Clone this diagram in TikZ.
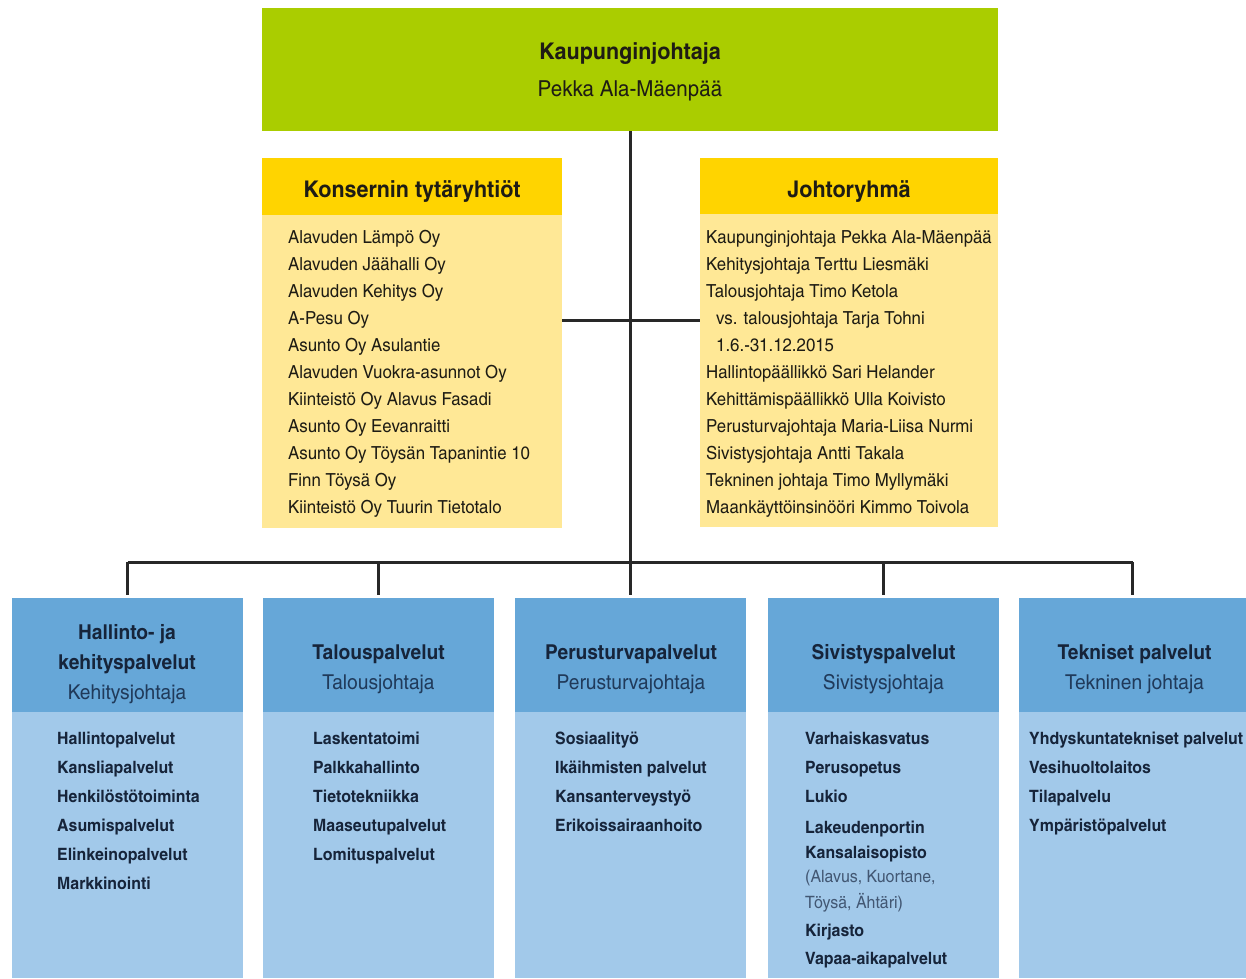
\documentclass[tikz,border=0pt]{standalone}
\usepackage{fontspec}
\setmainfont{texgyreheroscn}[Extension=.otf, UprightFont=*-regular, BoldFont=*-bold, ItalicFont=*-italic, BoldItalicFont=*-bolditalic, FakeStretch=1.14]
\definecolor{lime}{RGB}{170,205,0}
\definecolor{yhead}{RGB}{255,212,0}
\definecolor{ybody}{RGB}{255,232,150}
\definecolor{bhead}{RGB}{102,167,216}
\definecolor{bbody}{RGB}{162,201,234}
\definecolor{navy}{RGB}{22,36,58}
\definecolor{navy2}{RGB}{32,58,90}
\definecolor{ink}{RGB}{30,28,20}
\definecolor{linec}{RGB}{40,40,40}
\begin{document}
\begin{tikzpicture}[x=1pt,y=-1pt,
  box/.style={draw=none, inner sep=0pt, outer sep=0pt, anchor=north west},
  conn/.style={draw=linec, line width=3pt},
  ttl/.style={inner sep=0pt, anchor=base, text=ink, font=\fontsize{23}{26}\selectfont\bfseries},
  sub/.style={inner sep=0pt, anchor=base, text=ink, font=\fontsize{22}{24}\selectfont},
  yhd/.style={inner sep=0pt, anchor=base, text=ink, font=\fontsize{23}{26}\selectfont\bfseries},
  yit/.style={inner sep=0pt, anchor=base west, text=ink, font=\fontsize{18}{22}\selectfont},
  bhd/.style={inner sep=0pt, anchor=base, text=navy, font=\fontsize{20.5}{24}\selectfont\bfseries},
  bsub/.style={inner sep=0pt, anchor=base, text=navy2, font=\fontsize{20.5}{24}\selectfont},
  bit/.style={inner sep=0pt, anchor=base west, text=navy, font=\fontsize{17}{20}\selectfont\bfseries},
  bnote/.style={inner sep=0pt, anchor=base west, text=navy2!85, font=\fontsize{17}{20}\selectfont},
]
\useasboundingbox (0,0) rectangle (1246,978);
\fill[white] (0,0) rectangle (1246,978);

% top box
\node[box, fill=lime, minimum width=736pt, minimum height=123pt] (top) at (262,8) {};
\node[ttl] (toptitle) at (630,59) {Kaupunginjohtaja};
\node[sub] (topname) at (630,96) {Pekka Ala-Mäenpää};

% yellow boxes
\node[box, fill=ybody, minimum width=300pt, minimum height=370pt] (kons) at (262,158) {};
\node[box, fill=yhead, minimum width=300pt, minimum height=57pt] (konsh) at (262,158) {};
\node[yhd] (konst) at (412,197) {Konsernin tytäryhtiöt};
\foreach \t [count=\i] in {Alavuden Lämpö Oy, Alavuden Jäähalli Oy, Alavuden Kehitys Oy, A-Pesu Oy, Asunto Oy Asulantie, Alavuden Vuokra-asunnot Oy, Kiinteistö Oy Alavus Fasadi, Asunto Oy Eevanraitti, Asunto Oy Töysän Tapanintie 10, Finn Töysä Oy, Kiinteistö Oy Tuurin Tietotalo}
  \node[yit] (k\i) at (288,{243+(\i-1)*27}) {\t};

\node[box, fill=ybody, minimum width=298pt, minimum height=369pt] (johto) at (700,158) {};
\node[box, fill=yhead, minimum width=298pt, minimum height=56pt] (johtoh) at (700,158) {};
\node[yhd] (johtot) at (849,197) {Johtoryhmä};
\foreach \t/\dx [count=\i] in {Kaupunginjohtaja Pekka Ala-Mäenpää/0, Kehitysjohtaja Terttu Liesmäki/0, Talousjohtaja Timo Ketola/0, vs. talousjohtaja Tarja Tohni/10, 1.6.-31.12.2015/10, Hallintopäällikkö Sari Helander/0, Kehittämispäällikkö Ulla Koivisto/0, Perusturvajohtaja Maria-Liisa Nurmi/0, Sivistysjohtaja Antti Takala/0, Tekninen johtaja Timo Myllymäki/0, Maankäyttöinsinööri Kimmo Toivola/0}
  \node[yit] (j\i) at ({706+\dx},{243+(\i-1)*27}) {\t};

% blue boxes
\foreach \n/\x/\w in {b1/12/231, b2/263/231, b3/515/231, b4/768/231, b5/1019/227}{
  \node[box, fill=bbody, minimum width=\w pt, minimum height=380pt] (\n) at (\x,598) {};
  \node[box, fill=bhead, minimum width=\w pt, minimum height=114pt] (\n h) at (\x,598) {};
}

\node[bhd] (b1t1) at (127,639) {Hallinto- ja};
\node[bhd] (b1t2) at (127,669) {kehityspalvelut};
\node[bsub] (b1s) at (127,699) {Kehitysjohtaja};
\node[bhd] (b2t) at (378.5,659) {Talouspalvelut};
\node[bsub] (b2s) at (378.5,689) {Talousjohtaja};
\node[bhd] (b3t) at (631,659) {Perusturvapalvelut};
\node[bsub] (b3s) at (631,689) {Perusturvajohtaja};
\node[bhd] (b4t) at (883.5,659) {Sivistyspalvelut};
\node[bsub] (b4s) at (883.5,689) {Sivistysjohtaja};
\node[bhd] (b5t) at (1134.5,659) {Tekniset palvelut};
\node[bsub] (b5s) at (1134.5,689) {Tekninen johtaja};

\foreach \t [count=\i] in {Hallintopalvelut, Kansliapalvelut, Henkilöstötoiminta, Asumispalvelut, Elinkeinopalvelut, Markkinointi}
  \node[bit] (b1i\i) at (57,{744+(\i-1)*29}) {\t};
\foreach \t [count=\i] in {Laskentatoimi, Palkkahallinto, Tietotekniikka, Maaseutupalvelut, Lomituspalvelut}
  \node[bit] (b2i\i) at (313,{744+(\i-1)*29}) {\t};
\foreach \t [count=\i] in {Sosiaalityö, Ikäihmisten palvelut, Kansanterveystyö, Erikoissairaanhoito}
  \node[bit] (b3i\i) at (555,{744+(\i-1)*29}) {\t};
\foreach \t [count=\i] in {Yhdyskuntatekniset palvelut, Vesihuoltolaitos, Tilapalvelu, Ympäristöpalvelut}
  \node[bit] (b5i\i) at (1029,{744+(\i-1)*29}) {\t};
\node[bit] (b4i1) at (805,744) {Varhaiskasvatus};
\node[bit] (b4i2) at (805,773) {Perusopetus};
\node[bit] (b4i3) at (805,802) {Lukio};
\node[bit] (b4i4) at (805,833) {Lakeudenportin};
\node[bit] (b4i5) at (805,858) {Kansalaisopisto};
\node[bnote] (b4n1) at (805,882) {(Alavus, Kuortane,};
\node[bnote] (b4n2) at (805,908) {Töysä, Ähtäri)};
\node[bit] (b4i6) at (805,936) {Kirjasto};
\node[bit] (b4i7) at (805,964) {Vapaa-aikapalvelut};

% connectors
\coordinate (hub) at (630,320);
\coordinate (bus) at (630,562);
\draw[conn] (top.south) -- (bus);
\draw[conn] (kons.east |- hub) -- (johto.west |- hub);
\draw[conn] (b1.north |- bus) -- (b5.north |- bus);
\foreach \n in {b1,b2,b3,b4,b5}
  \draw[conn, shorten >=3pt] (\n.north |- bus) -- (\n.north);
\end{tikzpicture}
\end{document}
